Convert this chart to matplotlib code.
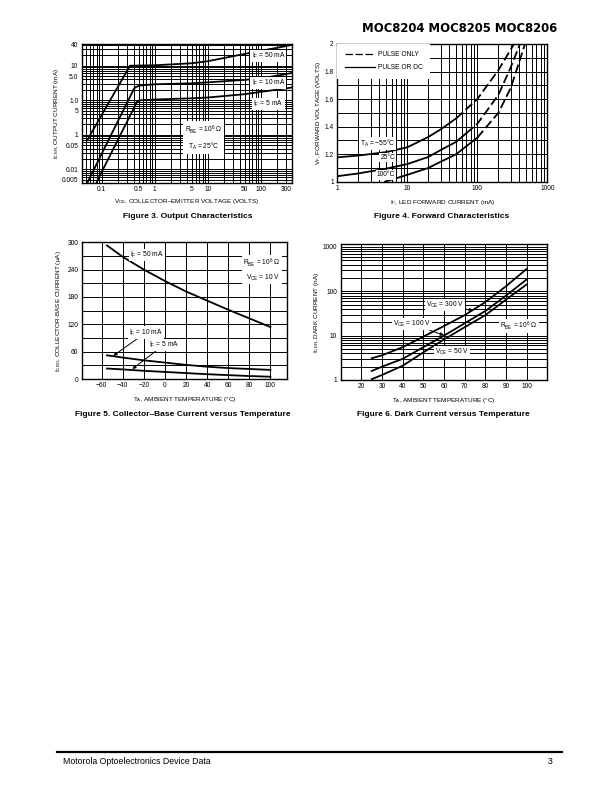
import numpy as np
import matplotlib
matplotlib.use('Agg')
import matplotlib.pyplot as plt
from matplotlib.ticker import FixedLocator, FixedFormatter, NullFormatter
from matplotlib.lines import Line2D

plt.rcParams['font.family'] = ['Liberation Sans', 'DejaVu Sans']
plt.rcParams['mathtext.fontset'] = 'custom'
plt.rcParams['mathtext.rm'] = 'Liberation Sans'
plt.rcParams['mathtext.it'] = 'Liberation Sans:italic'
plt.rcParams['mathtext.bf'] = 'Liberation Sans:bold'
plt.rcParams['mathtext.default'] = 'rm'

# ---------------- Figure 3: Output characteristics ----------------
f3_vce_50 = [0.0535, 0.342, 0.45, 1, 5, 10, 50, 100, 300, 385]
f3_ic_50 = [0.07, 10, 10.1, 10.3, 11.8, 13.5, 22, 27, 37, 40]
f3_vce_10 = [0.0545, 0.41, 0.45, 0.55, 1, 5, 10, 50, 100, 300, 385]
f3_ic_10 = [0.0043, 2.2, 2.45, 2.7, 2.9, 3.1, 3.3, 3.9, 4.3, 5.7, 6.2]
f3_vce_5 = [0.0805, 0.47, 0.55, 1, 5, 10, 50, 100, 300, 385]
f3_ic_5 = [0.0043, 0.93, 1.0, 1.05, 1.14, 1.2, 1.5, 1.75, 2.2, 2.35]
f3_xticks = [0.1, 0.5, 1, 5, 10, 50, 100, 300]
f3_xlabels = ['0.1', '0.5', '1', '5', '10', '50', '100', '300']
f3_yticks = [40, 10, 5, 1, 0.5, 0.1, 0.05, 0.01, 0.005]
f3_ylabels = ['40', '10', '5.0', '1.0', '5', '1', '0.05', '0.01', '0.005']

# ---------------- Figure 4: Forward characteristics ----------------
f4_if_m55 = [1, 2, 5, 10, 20, 30, 50, 100, 200, 335]
f4_vf_m55 = [1.177, 1.19, 1.215, 1.25, 1.325, 1.38, 1.46, 1.60, 1.81, 2.0]
f4_if_25 = [1, 2, 5, 10, 20, 30, 50, 100, 200, 300, 407]
f4_vf_25 = [1.04, 1.06, 1.095, 1.128, 1.18, 1.23, 1.29, 1.42, 1.63, 1.83, 2.0]
f4_if_100 = [4.8, 10, 20, 30, 50, 100, 200, 300, 480]
f4_vf_100 = [1.0, 1.05, 1.10, 1.145, 1.20, 1.32, 1.50, 1.68, 2.0]
f4_pulse_start = [50, 70, 100]   # IF above which curve is pulse-only (dashed)
f4_xticks = [1, 10, 100, 1000]
f4_yticks = [1, 1.2, 1.4, 1.6, 1.8, 2]
f4_ylabels = ['1', '1.2', '1.4', '1.6', '1.8', '2']

# ---------------- Figure 5: Collector-base current ----------------
f5_ta = [-55, -40, -20, 0, 20, 40, 60, 80, 100]
f5_icbo_50 = [293, 268, 240, 215, 192, 172, 152, 133, 114]
f5_icbo_10 = [52, 47, 41, 36, 31, 27, 24, 22, 20]
f5_icbo_5 = [23, 21, 18, 15.5, 13, 10.5, 8.5, 6.5, 5]
f5_xticks = [-60, -40, -20, 0, 20, 40, 60, 80, 100]
f5_yticks = [0, 60, 120, 180, 240, 300]

# ---------------- Figure 6: Dark current ----------------
f6_ta = [25, 30, 40, 50, 60, 70, 80, 90, 100]
f6_icer_300 = [3.1, 3.6, 5.5, 9.5, 16.5, 29, 57, 130, 320]
f6_icer_100 = [1.6, 2.0, 3.0, 5.5, 10, 19, 36, 80, 185]
f6_icer_50 = [1.04, 1.3, 2.1, 4.2, 8.2, 15.5, 29, 65, 143]
f6_xticks = [20, 30, 40, 50, 60, 70, 80, 90, 100]
f6_yticks = [1, 10, 100, 1000]

W, H = 612, 792
fig = plt.figure(figsize=(W / 100, H / 100), dpi=100)

TICK_FS = 4.8
LAB_FS = 4.6
ANN_FS = 4.8
GRID_LW = 0.7
CURVE_LW = 1.3
WHITE = dict(facecolor='white', edgecolor='none', pad=0.8)


def axes_px(left, top, right, bottom):
    return fig.add_axes([left / W, 1 - bottom / H, (right - left) / W, (bottom - top) / H])


def style(ax):
    for s in ax.spines.values():
        s.set_linewidth(1.0)
        s.set_color('black')
    ax.tick_params(which='both', length=0, pad=2.5, labelsize=TICK_FS)
    ax.set_axisbelow(True)


def log_grid(lo, hi):
    vals = []
    for e in range(-4, 5):
        for k in range(1, 10):
            v = k * 10.0 ** e
            if lo * 1.0001 < v < hi / 1.0001:
                vals.append(v)
    return vals


# ---- Figure 3 ----
ax1 = axes_px(81.7, 44, 291.7, 182.7)
ax1.set_xscale('log')
ax1.set_yscale('log')
ax1.set_xlim(0.042, 385)
ax1.set_ylim(0.0041, 42.6)
style(ax1)
for v in log_grid(0.042, 385):
    ax1.axvline(v, color='black', lw=GRID_LW, zorder=0)
for v in log_grid(0.0041, 42.6):
    ax1.axhline(v, color='black', lw=GRID_LW, zorder=0)
ax1.xaxis.set_major_locator(FixedLocator(f3_xticks))
ax1.xaxis.set_major_formatter(FixedFormatter(f3_xlabels))
ax1.xaxis.set_minor_formatter(NullFormatter())
ax1.yaxis.set_major_locator(FixedLocator(f3_yticks))
ax1.yaxis.set_major_formatter(FixedFormatter(f3_ylabels))
ax1.yaxis.set_minor_formatter(NullFormatter())
ax1.plot(f3_vce_50, f3_ic_50, color='black', lw=CURVE_LW)
ax1.plot(f3_vce_10, f3_ic_10, color='black', lw=CURVE_LW)
ax1.plot(f3_vce_5, f3_ic_5, color='black', lw=CURVE_LW)
ax1.text(140, 19, 'I$_F$ = 50 mA', fontsize=ANN_FS, ha='center', va='center', bbox=WHITE)
ax1.text(140, 3.15, 'I$_F$ = 10 mA', fontsize=ANN_FS, ha='center', va='center', bbox=WHITE)
ax1.text(140, 0.78, 'I$_F$ = 5 mA', fontsize=ANN_FS, ha='center', va='center', bbox=WHITE)
ax1.text(8.3, 0.083, 'R$_{BE}$ = 10$^6$ Ω\nT$_A$ = 25°C', fontsize=ANN_FS, ha='center', va='center',
         linespacing=1.6, bbox=dict(facecolor='white', edgecolor='none', pad=1.5))
ax1.set_xlabel('V$_{CE}$, COLLECTOR–EMITTER VOLTAGE (VOLTS)', fontsize=LAB_FS, labelpad=2.5)
ax1.set_ylabel('I$_{CER}$, OUTPUT CURRENT (mA)', fontsize=LAB_FS, labelpad=0.5)

# ---- Figure 4 ----
ax2 = axes_px(337.3, 44, 547.3, 181.7)
ax2.set_xscale('log')
ax2.set_xlim(1, 1000)
ax2.set_ylim(1, 2)
style(ax2)
for v in log_grid(1, 1000):
    ax2.axvline(v, color='black', lw=GRID_LW, zorder=0)
for v in np.arange(1.1, 1.95, 0.1):
    ax2.axhline(v, color='black', lw=GRID_LW, zorder=0)
ax2.xaxis.set_major_locator(FixedLocator(f4_xticks))
ax2.xaxis.set_major_formatter(FixedFormatter([str(t) for t in f4_xticks]))
ax2.xaxis.set_minor_formatter(NullFormatter())
ax2.yaxis.set_major_locator(FixedLocator(f4_yticks))
ax2.yaxis.set_major_formatter(FixedFormatter(f4_ylabels))
DASH = (0, (5, 2))
for xs, ys, lim in [(f4_if_m55, f4_vf_m55, f4_pulse_start[0]),
                    (f4_if_25, f4_vf_25, f4_pulse_start[1]),
                    (f4_if_100, f4_vf_100, f4_pulse_start[2])]:
    xs = np.array(xs, float)
    ys = np.array(ys, float)
    ylim_v = np.interp(np.log10(lim), np.log10(xs), ys)
    m1 = xs < lim
    m2 = xs > lim
    ax2.plot(np.r_[xs[m1], lim], np.r_[ys[m1], ylim_v], color='black', lw=CURVE_LW)
    ax2.plot(np.r_[lim, xs[m2]], np.r_[ylim_v, ys[m2]], color='black', lw=CURVE_LW, ls=DASH)
ax2.text(6.7, 1.279, 'T$_A$ = −55°C', fontsize=ANN_FS, ha='right', va='center', bbox=WHITE)
ax2.text(6.7, 1.177, '25°C', fontsize=ANN_FS, ha='right', va='center', bbox=WHITE)
ax2.text(6.7, 1.049, '100°C', fontsize=ANN_FS, ha='right', va='center', bbox=WHITE)
leg = ax2.legend(handles=[Line2D([], [], color='black', lw=0.9, ls=(0, (6, 2))),
                          Line2D([], [], color='black', lw=0.9)],
                 labels=['PULSE ONLY', 'PULSE OR DC'], loc='upper left', bbox_to_anchor=(0, 1),
                 borderaxespad=0, frameon=True, fancybox=False, edgecolor='white', facecolor='white',
                 framealpha=1, fontsize=ANN_FS, handlelength=4.6, handletextpad=0.4,
                 borderpad=1.1, labelspacing=0.9)
leg.get_frame().set_linewidth(0)
ax2.set_xlabel('I$_F$, LED FORWARD CURRENT (mA)', fontsize=LAB_FS, labelpad=4)
ax2.set_ylabel('V$_F$, FORWARD VOLTAGE (VOLTS)', fontsize=LAB_FS, labelpad=1)

# ---- Figure 5 ----
ax3 = axes_px(81.7, 242.3, 287.3, 379)
ax3.set_xlim(-79, 116)
ax3.set_ylim(0, 300)
style(ax3)
for v in f5_xticks:
    ax3.axvline(v, color='black', lw=GRID_LW, zorder=0)
for v in range(30, 300, 30):
    ax3.axhline(v, color='black', lw=GRID_LW, zorder=0)
ax3.xaxis.set_major_locator(FixedLocator(f5_xticks))
ax3.xaxis.set_major_formatter(FixedFormatter([str(t).replace('-', '−') for t in f5_xticks]))
ax3.yaxis.set_major_locator(FixedLocator(f5_yticks))
ax3.yaxis.set_major_formatter(FixedFormatter([str(t) for t in f5_yticks]))
ax3.plot(f5_ta, f5_icbo_50, color='black', lw=CURVE_LW)
ax3.plot(f5_ta, f5_icbo_10, color='black', lw=CURVE_LW)
ax3.plot(f5_ta, f5_icbo_5, color='black', lw=CURVE_LW)
ax3.text(-17, 272, 'I$_F$ = 50 mA', fontsize=ANN_FS, ha='center', va='center', bbox=WHITE)
ax3.text(92, 239, 'R$_{BE}$ = 10$^6$ Ω\nV$_{CE}$ = 10 V', fontsize=ANN_FS, ha='center', va='center',
         linespacing=1.5, multialignment='right', bbox=WHITE)
ARW = dict(arrowstyle='-|>', color='black', lw=0.7, mutation_scale=5, shrinkA=0, shrinkB=0)
ax3.annotate('I$_F$ = 10 mA', xy=(-49, 51), xytext=(-18, 102), fontsize=ANN_FS, ha='center',
             va='center', bbox=WHITE, arrowprops=ARW)
ax3.annotate('I$_F$ = 5 mA', xy=(-31, 22), xytext=(-1, 75), fontsize=ANN_FS, ha='center',
             va='center', bbox=WHITE, arrowprops=ARW)
ax3.set_xlabel('T$_A$, AMBIENT TEMPERATURE (°C)', fontsize=LAB_FS, labelpad=4)
ax3.set_ylabel('I$_{CBO}$, COLLECTOR-BASE CURRENT (μA)', fontsize=LAB_FS, labelpad=3)

# ---- Figure 6 ----
ax4 = axes_px(340.7, 244.3, 547.3, 380)
ax4.set_yscale('log')
ax4.set_xlim(10, 110)
ax4.set_ylim(1, 1150)
style(ax4)
for v in range(20, 110, 10):
    ax4.axvline(v, color='black', lw=GRID_LW, zorder=0)
for v in log_grid(1, 1150):
    ax4.axhline(v, color='black', lw=GRID_LW, zorder=0)
ax4.xaxis.set_major_locator(FixedLocator(f6_xticks))
ax4.xaxis.set_major_formatter(FixedFormatter([str(t) for t in f6_xticks]))
ax4.yaxis.set_major_locator(FixedLocator(f6_yticks))
ax4.yaxis.set_major_formatter(FixedFormatter([str(t) for t in f6_yticks]))
ax4.yaxis.set_minor_formatter(NullFormatter())
ax4.plot(f6_ta, f6_icer_300, color='black', lw=CURVE_LW)
ax4.plot(f6_ta, f6_icer_100, color='black', lw=CURVE_LW)
ax4.plot(f6_ta, f6_icer_50, color='black', lw=CURVE_LW)
ax4.annotate('V$_{CE}$ = 300 V', xy=(74, 37), xytext=(60.4, 49.8), fontsize=ANN_FS, ha='center',
             va='center', bbox=WHITE, arrowprops=ARW)
ax4.annotate('V$_{CE}$ = 100 V', xy=(60, 10.2), xytext=(44.6, 18.3), fontsize=ANN_FS, ha='center',
             va='center', bbox=WHITE, arrowprops=ARW)
ax4.text(63.8, 4.2, 'V$_{CE}$ = 50 V', fontsize=ANN_FS, ha='center', va='center', bbox=WHITE)
ax4.text(96.3, 16.6, 'R$_{BE}$ = 10$^6$ Ω', fontsize=ANN_FS, ha='center', va='center', bbox=WHITE)
ax4.set_xlabel('T$_A$, AMBIENT TEMPERATURE (°C)', fontsize=LAB_FS, labelpad=4)
ax4.set_ylabel('I$_{CER}$, DARK CURRENT (nA)', fontsize=LAB_FS, labelpad=1)

# ---- Page texts ----
fig.text(557 / W, 1 - 28 / H, 'MOC8204 MOC8205 MOC8206', fontsize=8.4, fontweight='bold',
         family='DejaVu Sans', ha='right', va='center')
fig.text(188 / W, 1 - 216 / H, 'Figure 3. Output Characteristics', fontsize=6, fontweight='bold',
         ha='center', va='center')
fig.text(442 / W, 1 - 216 / H, 'Figure 4. Forward Characteristics', fontsize=6, fontweight='bold',
         ha='center', va='center')
fig.text(183 / W, 1 - 415 / H, 'Figure 5. Collector–Base Current versus Temperature', fontsize=6,
         fontweight='bold', ha='center', va='center')
fig.text(443 / W, 1 - 415 / H, 'Figure 6. Dark Current versus Temperature', fontsize=6,
         fontweight='bold', ha='center', va='center')
fig.add_artist(Line2D([57 / W, 562 / W], [1 - 752 / H, 1 - 752 / H], color='black', lw=1.6))
fig.text(63 / W, 1 - 761 / H, 'Motorola Optoelectronics Device Data', fontsize=6.3, ha='left', va='center')
fig.text(553 / W, 1 - 761 / H, '3', fontsize=6.3, ha='right', va='center')

fig.savefig('out.png', dpi=100, facecolor='white')
